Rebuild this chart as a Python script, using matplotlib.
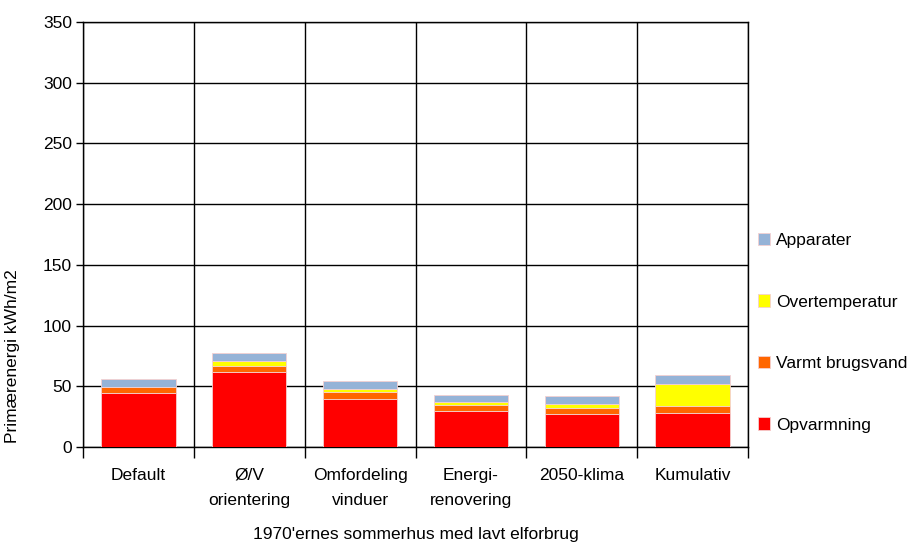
import matplotlib
matplotlib.use("Agg")
import matplotlib.pyplot as plt
import numpy as np

plt.rcParams['font.family'] = ['Liberation Sans', 'DejaVu Sans']

categories = ["Default", "Ø/V\norientering", "Omfordeling\nvinduer",
              "Energi-\nrenovering", "2050-klima", "Kumulativ"]
opvarmning = [44.5, 61.6, 39.5, 29.6, 26.8, 27.9]
varmt_vand = [4.7, 5.0, 5.5, 5.0, 5.3, 5.5]
overtemp = [0.0, 4.1, 3.1, 2.1, 3.3, 18.8]
apparater = [6.9, 7.0, 6.6, 6.2, 6.6, 6.9]

series = [("Opvarmning", opvarmning, "#FF0000"),
          ("Varmt brugsvand", varmt_vand, "#FF6600"),
          ("Overtemperatur", overtemp, "#FFFF00"),
          ("Apparater", apparater, "#95B3D7")]

fs = 12.5

fig = plt.figure(figsize=(9.1, 5.42), dpi=100)
ax = fig.add_axes([83/910, 95/542, 665/910, 425/542])

x = np.arange(len(categories))
bottom = np.zeros(len(categories))
handles = []
for name, vals, col in series:
    b = ax.bar(x, vals, width=0.67, bottom=bottom, color=col,
               edgecolor="#f5d0d0", linewidth=0.6, label=name, zorder=3)
    handles.append(b)
    bottom += np.array(vals)

ax.set_xlim(-0.5, len(categories) - 0.5)
ax.set_ylim(0, 350)
ax.set_yticks(np.arange(0, 351, 50))
ax.set_xticks(x)
ax.set_xticklabels(categories, fontsize=fs, linespacing=1.85)
ax.set_xticks(np.arange(-0.5, len(categories), 1), minor=True)
ax.tick_params(axis='x', which='major', length=0, pad=15)
ax.tick_params(axis='x', which='minor', length=8, width=1, color='black')
ax.tick_params(axis='y', length=5, width=1, labelsize=fs, pad=3)

ax.grid(axis='y', color='black', linewidth=1, zorder=0)
ax.grid(axis='x', which='minor', color='black', linewidth=1, zorder=0)
for s in ax.spines.values():
    s.set_color('black')
    s.set_linewidth(1)

ax.set_ylabel("Primærenergi kWh/m2", fontsize=fs)
ax.yaxis.set_label_coords(-0.095, 0.214)
ax.set_xlabel("1970'ernes sommerhus med lavt elforbrug", fontsize=fs, labelpad=14)

leg = ax.legend(handles=handles[::-1], loc='upper left',
                bbox_to_anchor=(1.005, 0.52), frameon=False, fontsize=fs,
                handlelength=0.7, handleheight=0.7, handletextpad=0.3,
                labelspacing=2.67, borderaxespad=0)

fig.savefig("out.png", dpi=100)
